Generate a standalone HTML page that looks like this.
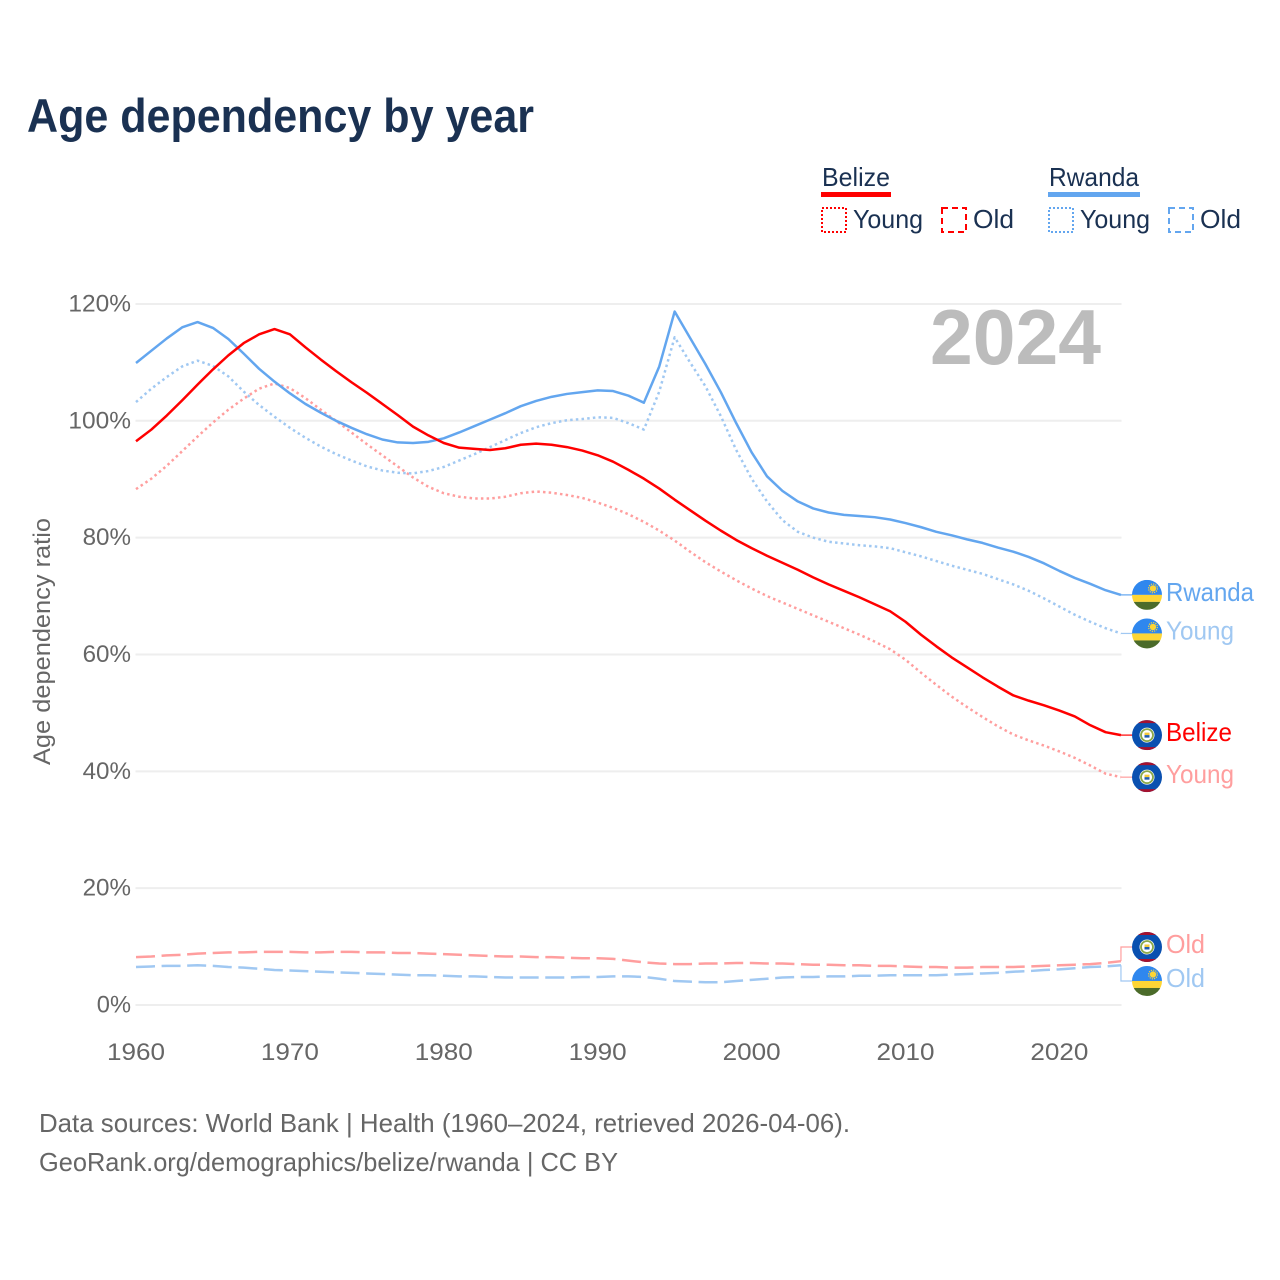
<!DOCTYPE html>
<html lang="en">
<head>
<meta charset="utf-8">
<title>Age dependency by year</title>
<style>
html,body{margin:0;padding:0;background:#fff;}
svg{display:block;font-family:"Liberation Sans",sans-serif;}
</style>
</head>
<body>
<svg id="chart" xmlns="http://www.w3.org/2000/svg" width="1280" height="1280" viewBox="0 0 1280 1280">
  <defs>
    <clipPath id="flag-clip"><circle cx="0" cy="0" r="15"/></clipPath>
    <g id="flag-rwanda" clip-path="url(#flag-clip)">
      <rect x="-15" y="-15" width="30" height="15" fill="#2f87ee"/>
      <rect x="-15" y="0" width="30" height="7" fill="#fdd535"/>
      <rect x="-15" y="7" width="30" height="8" fill="#4b6b2a"/>
      <circle cx="6" cy="-6.5" r="3.2" fill="#fdd535"/>
      <circle cx="6" cy="-6.5" r="4.4" fill="none" stroke="#fdd535" stroke-width="1.2" stroke-dasharray="1.2 1.1"/>
    </g>
    <g id="flag-belize" clip-path="url(#flag-clip)">
      <rect x="-15" y="-15" width="30" height="30" fill="#0a50b0"/>
      <rect x="-15" y="-15" width="30" height="3" fill="#a5122f"/>
      <rect x="-15" y="12" width="30" height="3" fill="#a5122f"/>
      <circle cx="0" cy="0" r="7.5" fill="#fff"/>
      <circle cx="0" cy="0" r="6" fill="none" stroke="#8aa84a" stroke-width="1.8"/>
      <rect x="-2.5" y="-2.5" width="5" height="2.5" fill="#f4c93a"/>
      <rect x="-2.5" y="0" width="5" height="2.5" fill="#1f5cae"/>
    </g>
  </defs>

  <text x="27" y="132" font-size="47" font-weight="700" fill="#1a3152" textLength="507" lengthAdjust="spacingAndGlyphs">Age dependency by year</text>

  <g>
    <text x="822" y="186" font-size="26" fill="#1a3152" textLength="68" lengthAdjust="spacingAndGlyphs">Belize</text>
    <rect x="821" y="192" width="70" height="5" fill="#ff0000"/>
    <rect x="822" y="208" width="24" height="24" fill="none" stroke="#ff0000" stroke-width="2" stroke-dasharray="2 2"/>
    <text x="853" y="228" font-size="26" fill="#1a3152" textLength="70" lengthAdjust="spacingAndGlyphs">Young</text>
    <rect x="942" y="208" width="24" height="24" fill="none" stroke="#ff0000" stroke-width="2" stroke-dasharray="6 4"/>
    <text x="973" y="228" font-size="26" fill="#1a3152" textLength="41" lengthAdjust="spacingAndGlyphs">Old</text>

    <text x="1049" y="186" font-size="26" fill="#1a3152" textLength="90" lengthAdjust="spacingAndGlyphs">Rwanda</text>
    <rect x="1048" y="192" width="92" height="5" fill="#63a6ef"/>
    <rect x="1049" y="208" width="24" height="24" fill="none" stroke="#63a6ef" stroke-width="2" stroke-dasharray="2 2"/>
    <text x="1080" y="228" font-size="26" fill="#1a3152" textLength="70" lengthAdjust="spacingAndGlyphs">Young</text>
    <rect x="1169" y="208" width="24" height="24" fill="none" stroke="#63a6ef" stroke-width="2" stroke-dasharray="6 4"/>
    <text x="1200" y="228" font-size="26" fill="#1a3152" textLength="41" lengthAdjust="spacingAndGlyphs">Old</text>
  </g>

  <g id="grid"></g>
  <g id="y-ticks"></g>
  <g id="x-ticks"></g>

  <text x="930" y="364" font-size="78" font-weight="700" fill="#bcbcbc" textLength="171" lengthAdjust="spacingAndGlyphs">2024</text>

  <text transform="translate(50,765) rotate(-90)" x="0" y="0" font-size="24" fill="#666666" textLength="247" lengthAdjust="spacingAndGlyphs">Age dependency ratio</text>

  <g id="series"></g>
  <g id="ends"></g>

  <text x="39" y="1132" font-size="26" fill="#666666" textLength="811" lengthAdjust="spacingAndGlyphs">Data sources: World Bank | Health (1960–2024, retrieved 2026-04-06).</text>
  <text x="39" y="1171" font-size="26" fill="#666666" textLength="579" lengthAdjust="spacingAndGlyphs">GeoRank.org/demographics/belize/rwanda | CC BY</text>
</svg>

<script>
const startYear = 1960;
const yTickValues = [0, 20, 40, 60, 80, 100, 120];
const yTickLabels = ["0%", "20%", "40%", "60%", "80%", "100%", "120%"];
const xTickValues = [1960, 1970, 1980, 1990, 2000, 2010, 2020];
const xTickLabels = ["1960", "1970", "1980", "1990", "2000", "2010", "2020"];

const belizeTotal = [
  96.5, 98.5, 100.9, 103.5, 106.2, 108.8, 111.2, 113.3, 114.8, 115.7,
  114.8, 112.6, 110.5, 108.5, 106.6, 104.8, 102.9, 101.0, 99.0, 97.5,
  96.2, 95.4, 95.2, 95.0, 95.3, 95.9, 96.1, 95.9, 95.5, 94.9,
  94.1, 93.0, 91.6, 90.1, 88.4, 86.5, 84.7, 82.9, 81.2, 79.6,
  78.2, 76.9, 75.7, 74.5, 73.2, 72.0, 70.9, 69.8, 68.6, 67.4,
  65.6, 63.4, 61.4, 59.5, 57.8, 56.1, 54.5, 53.0, 52.1, 51.3,
  50.4, 49.4, 47.9, 46.7, 46.2
];
const belizeYoung = [
  88.3, 90.1, 92.3, 94.8, 97.3, 99.7, 101.9, 103.8, 105.5, 106.4,
  105.6, 103.9, 101.9, 100.0, 98.0, 96.0, 94.1, 92.2, 90.3, 88.7,
  87.6, 87.0, 86.7, 86.7, 87.0, 87.6, 87.9, 87.7, 87.3, 86.8,
  86.0, 85.1, 84.0, 82.7, 81.2, 79.5, 77.6, 75.8, 74.2, 72.7,
  71.3, 70.0, 68.9, 67.8, 66.7, 65.6, 64.5, 63.4, 62.2, 60.9,
  59.1, 56.9, 54.8, 52.8, 51.0, 49.3, 47.7, 46.3, 45.3, 44.4,
  43.4, 42.3, 41.0, 39.6, 39.0
];
const belizeOld = [
  8.2, 8.3, 8.5, 8.6, 8.8, 8.9, 9.0, 9.0, 9.1, 9.1,
  9.1, 9.0, 9.0, 9.1, 9.1, 9.0, 9.0, 8.9, 8.9, 8.8,
  8.7, 8.6, 8.5, 8.4, 8.3, 8.3, 8.2, 8.2, 8.1, 8.0,
  8.0, 7.9, 7.6, 7.3, 7.1, 7.0, 7.0, 7.1, 7.1, 7.2,
  7.2, 7.1, 7.1, 7.0, 6.9, 6.9, 6.8, 6.8, 6.7, 6.7,
  6.6, 6.5, 6.5, 6.4, 6.4, 6.5, 6.5, 6.5, 6.6, 6.7,
  6.8, 6.9, 7.0, 7.2, 7.5
];
const rwandaTotal = [
  109.9, 112.0, 114.1, 116.0, 116.9, 115.9, 114.0, 111.5, 108.9, 106.7,
  104.7, 102.9, 101.4, 100.0, 98.8, 97.7, 96.8, 96.3, 96.2, 96.4,
  97.0, 98.0, 99.1, 100.2, 101.3, 102.5, 103.4, 104.1, 104.6, 104.9,
  105.2, 105.1, 104.3, 103.1, 109.3, 118.7, 114.2, 109.7, 104.9, 99.6,
  94.6, 90.5, 88.0, 86.2, 85.0, 84.3, 83.9, 83.7, 83.5, 83.1,
  82.5, 81.8, 81.0, 80.4, 79.7, 79.1, 78.3, 77.6, 76.7, 75.6,
  74.3, 73.1, 72.1, 71.0, 70.2
];
const rwandaYoung = [
  103.2, 105.5, 107.5, 109.3, 110.3, 109.4, 107.6, 105.0, 102.7, 100.7,
  98.8, 97.1, 95.6, 94.3, 93.2, 92.2, 91.5, 91.1, 91.0, 91.4,
  92.1, 93.2, 94.3, 95.5, 96.7, 97.9, 98.9, 99.6, 100.1, 100.3,
  100.6, 100.5, 99.6, 98.5, 105.0, 114.3, 110.0, 105.9, 100.8, 95.0,
  90.1, 86.2, 83.0, 81.0, 80.0, 79.3, 79.0, 78.7, 78.5, 78.2,
  77.5, 76.8, 76.0, 75.2, 74.5, 73.8, 72.9, 72.0, 70.9, 69.6,
  68.2, 66.8, 65.6, 64.5, 63.6
];
const rwandaOld = [
  6.5, 6.6, 6.7, 6.7, 6.8, 6.7, 6.5, 6.4, 6.2, 6.0,
  5.9, 5.8, 5.7, 5.6, 5.5, 5.4, 5.3, 5.2, 5.1, 5.1,
  5.0, 4.9, 4.9, 4.8, 4.7, 4.7, 4.7, 4.7, 4.7, 4.8,
  4.8, 4.9, 4.9, 4.8, 4.5, 4.1, 4.0, 3.9, 3.9, 4.1,
  4.3, 4.5, 4.7, 4.8, 4.8, 4.9, 4.9, 5.0, 5.0, 5.1,
  5.1, 5.1, 5.1, 5.2, 5.3, 5.4, 5.5, 5.7, 5.8, 6.0,
  6.1, 6.3, 6.5, 6.6, 6.8
];

const NS = 'http://www.w3.org/2000/svg';
function xScale(year) { return 136 + (year - 1960) * 15.39; }
function yScale(value) { return 1005 - value * 5.842; }
function make(tag, attrs, parent, content) {
  const el = document.createElementNS(NS, tag);
  for (const key in attrs) el.setAttribute(key, attrs[key]);
  if (content !== undefined) el.textContent = content;
  parent.appendChild(el);
  return el;
}
function charWidth(label) {
  let w = 0;
  for (const c of label) w += c === '%' ? 20 : 14.2;
  return w;
}

const gridGroup = document.getElementById('grid');
const yTickGroup = document.getElementById('y-ticks');
const xTickGroup = document.getElementById('x-ticks');
const seriesGroup = document.getElementById('series');
const endsGroup = document.getElementById('ends');

yTickValues.forEach(function (value, i) {
  const line = make('line', { x1: 135.5, x2: 1121.5, y1: yScale(value), y2: yScale(value), stroke: '#eeeeee', 'stroke-width': 2 }, gridGroup);
  
  
  const label = make('text', { x: 131, y: yScale(value) + 7.5, 'text-anchor': 'end', 'font-size': 24, fill: '#666666', textLength: charWidth(yTickLabels[i]), lengthAdjust: 'spacingAndGlyphs' }, yTickGroup, yTickLabels[i]);
  
  
});

xTickValues.forEach(function (year, i) {
  const label = make('text', { x: xScale(year), y: 1060, 'text-anchor': 'middle', 'font-size': 24, fill: '#666666', textLength: 58, lengthAdjust: 'spacingAndGlyphs' }, xTickGroup, xTickLabels[i]);
  
  
});

function drawSeries(values, color, dash, seriesName) {
  const d = values.map(function (v, i) {
    return (i ? 'L' : 'M') + xScale(startYear + i).toFixed(2) + ' ' + yScale(v).toFixed(2);
  }).join(' ');
  const attrs = { d: d, fill: 'none', stroke: color, 'stroke-width': 2.5, 'stroke-linejoin': 'round' };
  if (dash) attrs['stroke-dasharray'] = dash;
  const path = make('path', attrs, seriesGroup);
  
  
}

drawSeries(rwandaOld, '#a0c8f2', '19 6.6', 'line-rwanda-old');
drawSeries(belizeOld, '#ff9e9e', '19 6.6', 'line-belize-old');
drawSeries(belizeYoung, '#ff9e9e', '2.5 3.2', 'line-belize-young');
drawSeries(rwandaYoung, '#a0c8f2', '2.5 3.2', 'line-rwanda-young');
drawSeries(rwandaTotal, '#63a6ef', null, 'line-rwanda-total');
drawSeries(belizeTotal, '#ff0000', null, 'line-belize-total');

function drawEnd(values, flag, text, width, color, offset, endName) {
  const lastValue = values[values.length - 1];
  const yEnd = yScale(lastValue);
  const cy = yEnd + offset;
  const xEnd = xScale(startYear + values.length - 1);
  const pathData = offset === 0
    ? 'M' + xEnd + ' ' + yEnd + ' H1133'
    : 'M' + xEnd + ' ' + yEnd + ' V' + cy + ' H1133';
  const connector = make('path', { d: pathData, fill: 'none', stroke: color, 'stroke-width': 1.2 }, endsGroup);
  
  
  const icon = make('use', { href: '#' + flag, x: 1147, y: cy }, endsGroup);
  
  
  const label = make('text', { x: 1166, y: cy + 6, 'font-size': 26, fill: color, textLength: width, lengthAdjust: 'spacingAndGlyphs' }, endsGroup, text);
  
  
}

drawEnd(rwandaTotal, 'flag-rwanda', 'Rwanda', 88, '#63a6ef', 0, 'end-rwanda-total');
drawEnd(rwandaYoung, 'flag-rwanda', 'Young', 68, '#a0c8f2', 0, 'end-rwanda-young');
drawEnd(belizeTotal, 'flag-belize', 'Belize', 66, '#ff0000', 0, 'end-belize-total');
drawEnd(belizeYoung, 'flag-belize', 'Young', 68, '#ff9e9e', 0, 'end-belize-young');
drawEnd(belizeOld, 'flag-belize', 'Old', 39, '#ff9e9e', -14.2, 'end-belize-old');
drawEnd(rwandaOld, 'flag-rwanda', 'Old', 39, '#a0c8f2', 15.7, 'end-rwanda-old');
</script>
</body>
</html>
